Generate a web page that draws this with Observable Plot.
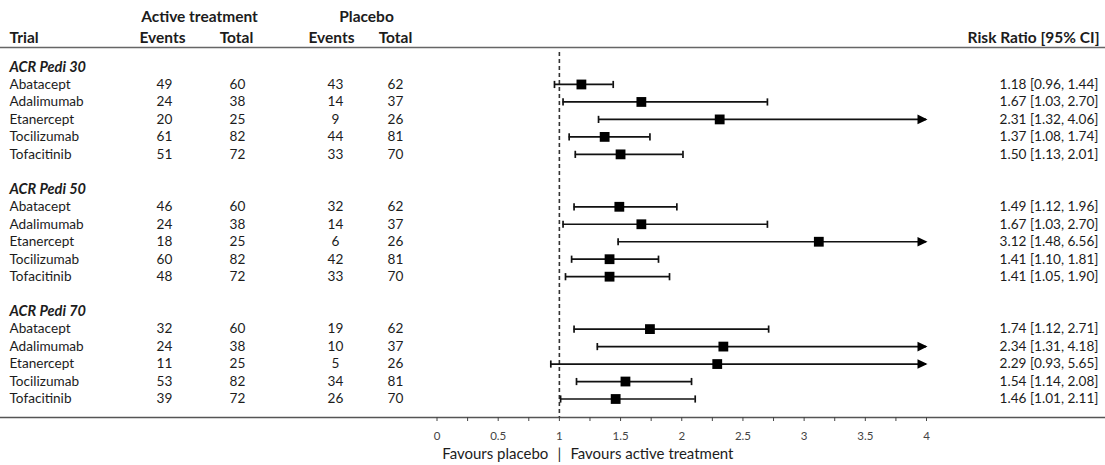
<!DOCTYPE html>
<html><head><meta charset="utf-8">
<script src="https://cdn.jsdelivr.net/npm/d3@7"></script>
<script src="https://cdn.jsdelivr.net/npm/@observablehq/plot@0.6"></script>
<style>body{margin:0;background:#fff} svg{display:block}</style>
</head><body><div id="chart"></div>
<script>
const groups = ["ACR Pedi 30", "ACR Pedi 50", "ACR Pedi 70"];
const trials = ["Abatacept", "Adalimumab", "Etanercept", "Tocilizumab", "Tofacitinib"];
const activeEvents  = [[49, 24, 20, 61, 51], [46, 24, 18, 60, 48], [32, 24, 11, 53, 39]];
const activeTotal   = [[60, 38, 25, 82, 72], [60, 38, 25, 82, 72], [60, 38, 25, 82, 72]];
const placeboEvents = [[43, 14, 9, 44, 33], [32, 14, 6, 42, 33], [19, 10, 5, 34, 26]];
const placeboTotal  = [[62, 37, 26, 81, 70], [62, 37, 26, 81, 70], [62, 37, 26, 81, 70]];
const riskRatio = [[1.18, 1.67, 2.31, 1.37, 1.50], [1.49, 1.67, 3.12, 1.41, 1.41], [1.74, 2.34, 2.29, 1.54, 1.46]];
const ciLower   = [[0.96, 1.03, 1.32, 1.08, 1.13], [1.12, 1.03, 1.48, 1.10, 1.05], [1.12, 1.31, 0.93, 1.14, 1.01]];
const ciUpper   = [[1.44, 2.70, 4.06, 1.74, 2.01], [1.96, 2.70, 6.56, 1.81, 1.90], [2.71, 4.18, 5.65, 2.08, 2.11]];
const xTicks      = [0, 0.25, 0.5, 0.75, 1, 1.25, 1.5, 1.75, 2, 2.25, 2.5, 2.75, 3, 3.25, 3.5, 3.75, 4];
const xTickLabels = ["0", "", "0.5", "", "1", "", "1.5", "", "2", "", "2.5", "", "3", "", "3.5", "", "4"];
const xMax = 4;

const headerRows = [];
const rows = [];
let r = 0;
groups.forEach((g, gi) => {
  headerRows.push({row: r, label: g});
  r++;
  trials.forEach((t, ti) => {
    const lo = ciLower[gi][ti], hi = ciUpper[gi][ti];
    rows.push({
      row: r, trial: t,
      ae: activeEvents[gi][ti], at: activeTotal[gi][ti],
      pe: placeboEvents[gi][ti], pt: placeboTotal[gi][ti],
      rr: riskRatio[gi][ti], lo, hi,
      hiClip: Math.min(hi, xMax),
      label: `${riskRatio[gi][ti].toFixed(2)} [${lo.toFixed(2)}, ${hi.toFixed(2)}]`
    });
    r++;
  });
  r++;
});
const lastRow = r - 2;

const caps = [];
rows.forEach(d => {
  caps.push({row: d.row, x: d.lo});
  if (d.hi <= xMax) caps.push({row: d.row, x: d.hi});
});
const arrows = rows.filter(d => d.hi > xMax);

const capSymbol = {draw(ctx) { ctx.moveTo(0, -3.6); ctx.lineTo(0, 3.6); }};
const squareSymbol = {draw(ctx) { ctx.rect(-4.9, -4.9, 9.8, 9.8); }};
const arrowSymbol = {draw(ctx) { ctx.moveTo(1, 0); ctx.lineTo(-9, -4.8); ctx.lineTo(-9, 4.8); ctx.closePath(); }};

const tickLabelMap = new Map(xTicks.map((t, i) => [t, xTickLabels[i]]));
const ink = "#1c1c1c";
const fontSize = 13.6;
const headSize = 15.5;
const leftX = 9;

const colText = (field, dx) => Plot.text(rows, {
  y: "row", text: field, frameAnchor: "left", dx, textAnchor: "middle", fill: ink, fontSize
});
const headText = (label, dx, dy, anchor = "middle", frameAnchor = "top-left") =>
  Plot.text([label], {frameAnchor, dx, dy, textAnchor: anchor, lineAnchor: "middle", fontWeight: "bold", fontSize: headSize, fill: ink});

const chart = Plot.plot({
  width: 1105, height: 465,
  marginTop: 47, marginBottom: 48, marginLeft: 0, marginRight: 0,
  x: {domain: [0, xMax], range: [436.5, 926], axis: null},
  y: {domain: [0, lastRow], range: [66.5, 398.5], axis: null},
  style: {fontFamily: "Lato, 'Open Sans', sans-serif", fontSize: "13px", color: ink, background: "#fff"},
  marks: [
    Plot.frame({anchor: "top", stroke: "#666", strokeWidth: 1.5}),
    Plot.frame({anchor: "bottom", stroke: "#555", strokeWidth: 1.3}),
    Plot.axisX({
      ticks: xTicks, tickFormat: d => tickLabelMap.get(d), tickSize: 4, tickPadding: 10,
      anchor: "bottom", label: null, fontSize: 11.5, fill: "#444", stroke: "#444"
    }),
    Plot.ruleX([1], {insetTop: 5, stroke: "#333", strokeWidth: 1.6, strokeDasharray: "4,3"}),
    // Column headers
    headText("Active treatment", 199, -30),
    headText("Placebo", 366, -30),
    headText("Trial", leftX, -9, "start"),
    headText("Events", 162, -9),
    headText("Total", 236, -9),
    headText("Events", 331, -9),
    headText("Total", 395, -9),
    headText("Risk Ratio [95% CI]", -6, -9, "end", "top-right"),
    // Group headers
    Plot.text(headerRows, {y: "row", text: "label", frameAnchor: "left", dx: leftX, textAnchor: "start", fontWeight: "bold", fontStyle: "italic", fontSize: 14.5, fill: ink}),
    // Trial names and counts
    Plot.text(rows, {y: "row", text: "trial", frameAnchor: "left", dx: leftX, textAnchor: "start", fill: ink, fontSize}),
    colText("ae", 164), colText("at", 237), colText("pe", 335), colText("pt", 395),
    Plot.text(rows, {y: "row", text: "label", frameAnchor: "right", dx: -7, textAnchor: "end", fill: ink, fontSize}),
    // Forest
    Plot.ruleY(rows, {y: "row", x1: "lo", x2: "hiClip", stroke: "#111", strokeWidth: 1.7}),
    Plot.dot(caps, {x: "x", y: "row", symbol: capSymbol, stroke: "#111", strokeWidth: 1.7, fill: "none"}),
    Plot.dot(arrows, {x: "hiClip", y: "row", symbol: arrowSymbol, fill: "#000", stroke: "none"}),
    Plot.dot(rows, {x: "rr", y: "row", symbol: squareSymbol, fill: "#000", stroke: "none"}),
    // Footer
    Plot.text(["|"], {x: [1], frameAnchor: "bottom", dy: 37, lineAnchor: "middle", textAnchor: "middle", fill: ink, fontSize: 15}),
    Plot.text(["Favours placebo"], {x: [1], frameAnchor: "bottom", dy: 37, dx: -11, lineAnchor: "middle", textAnchor: "end", fill: ink, fontSize: 15}),
    Plot.text(["Favours active treatment"], {x: [1], frameAnchor: "bottom", dy: 37, dx: 11, lineAnchor: "middle", textAnchor: "start", fill: ink, fontSize: 15})
  ]
});
document.getElementById("chart").appendChild(chart);
</script>
</body></html>
